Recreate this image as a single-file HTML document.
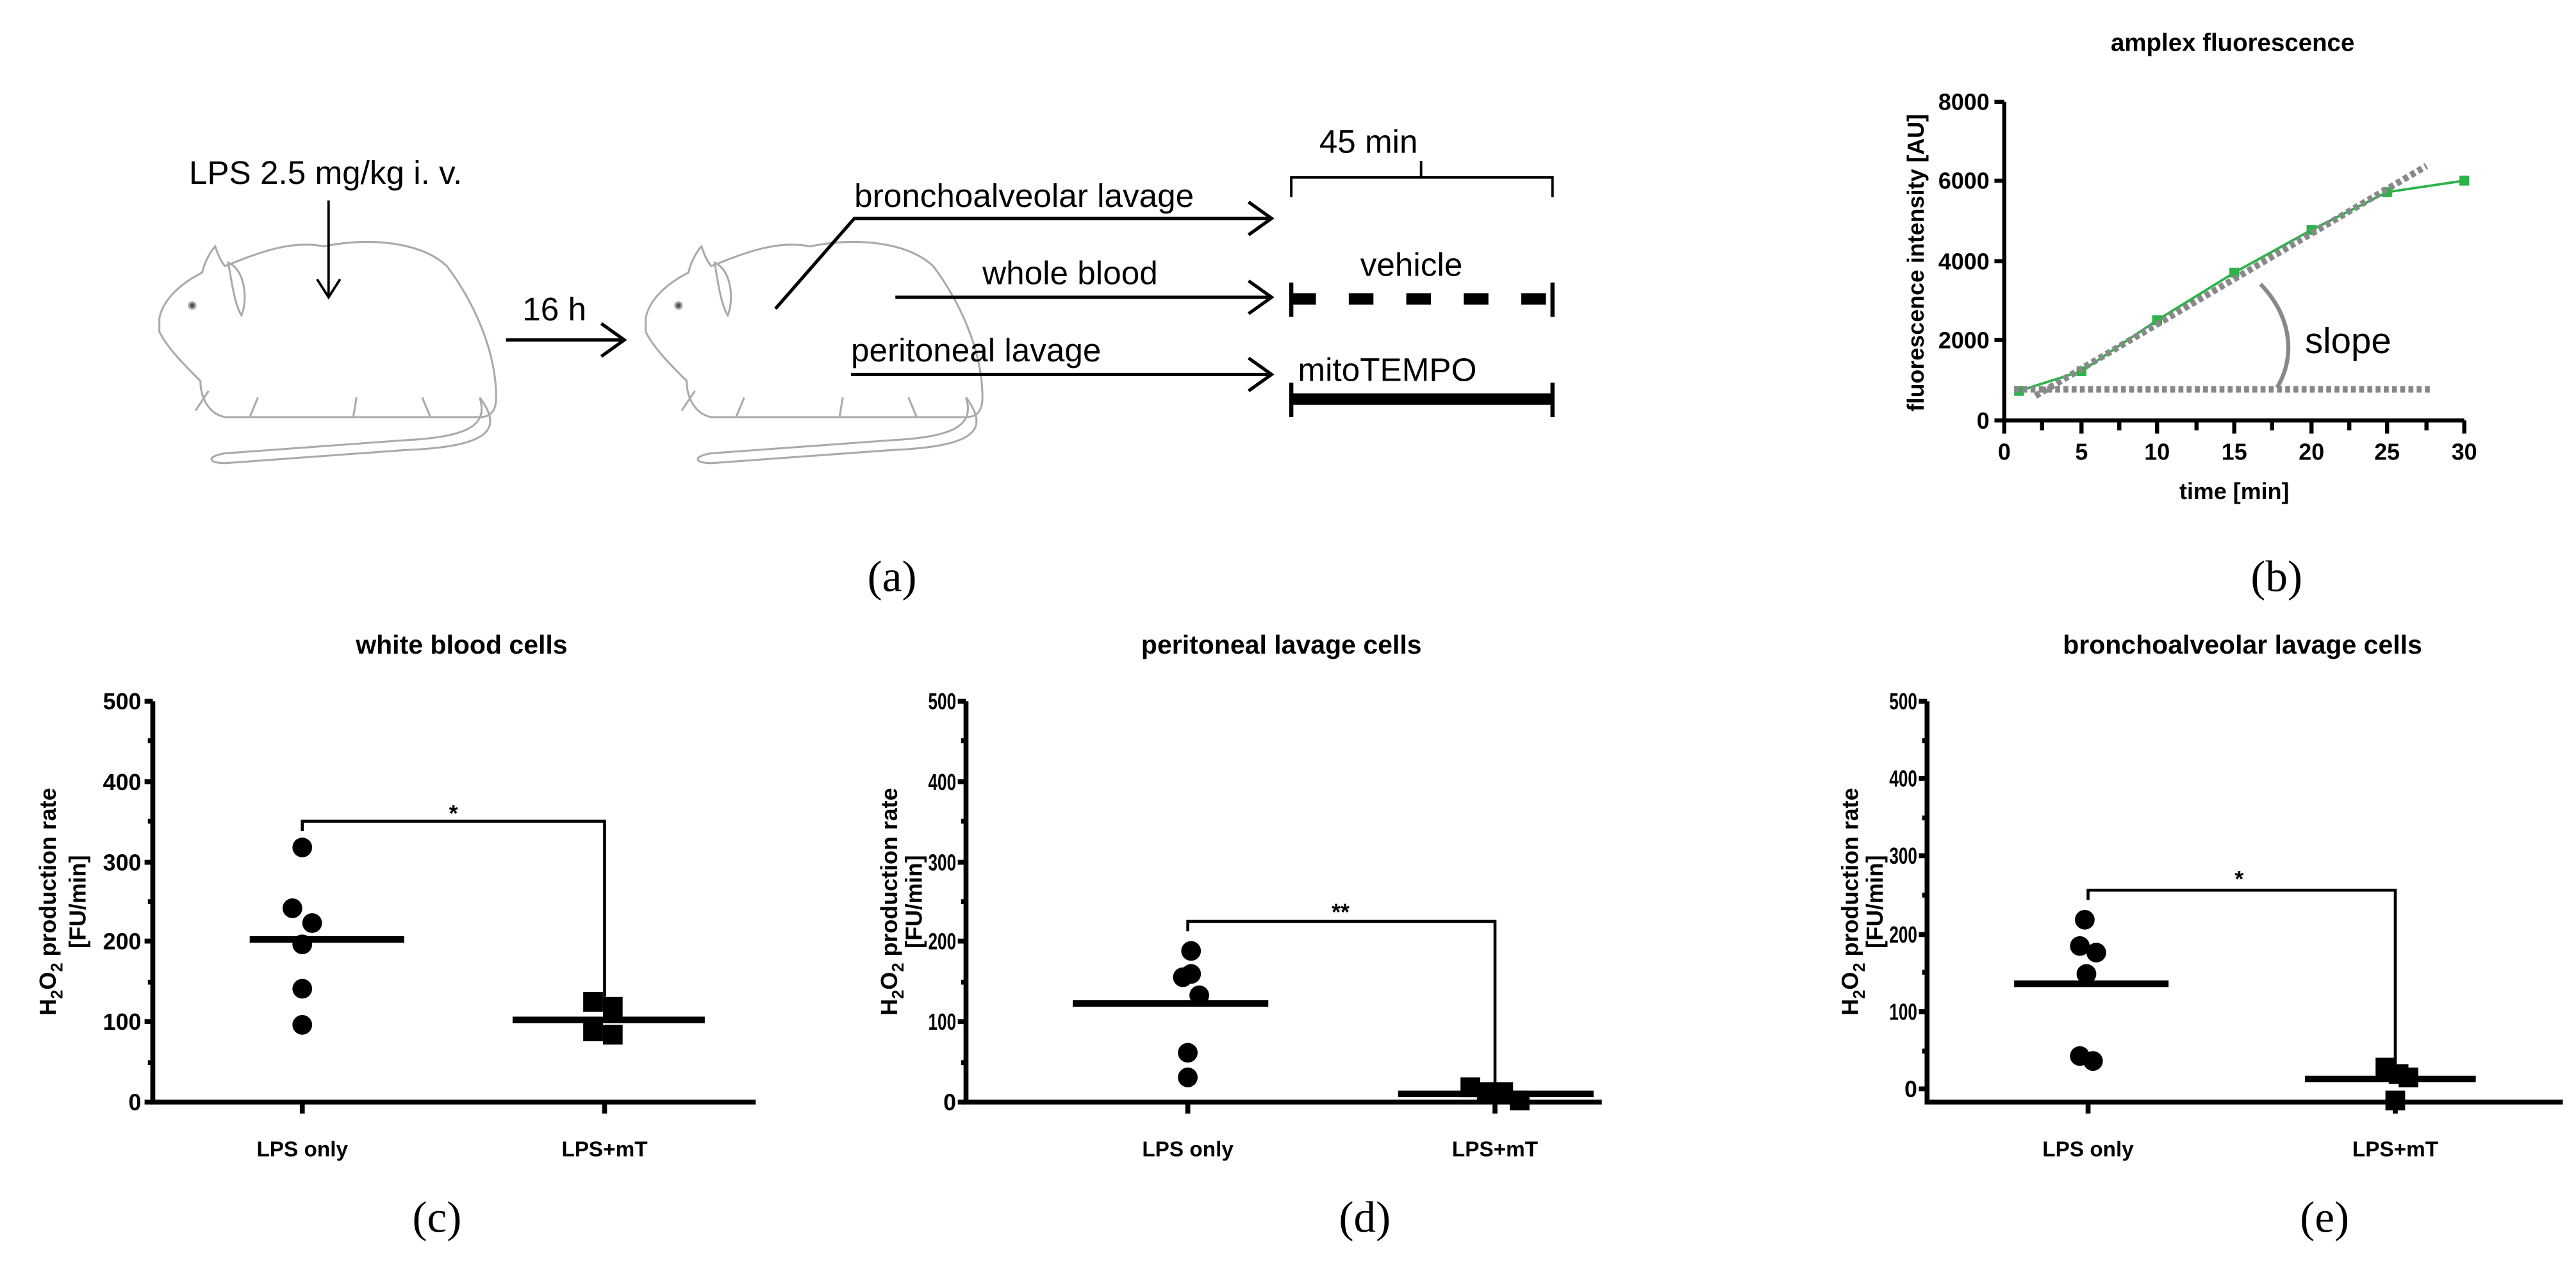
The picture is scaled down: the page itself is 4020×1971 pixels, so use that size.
<!DOCTYPE html>
<html><head><meta charset="utf-8"><style>
html,body{margin:0;padding:0;background:#fff;}
svg{display:block;}
text{font-family:"Liberation Sans",sans-serif;fill:#000;}
.b{font-weight:bold;}
.pl{font-family:"Liberation Serif",serif;font-size:27px;}
</style></head><body>
<svg width="4020" height="1971" viewBox="0 0 1568 769" preserveAspectRatio="none" xmlns="http://www.w3.org/2000/svg">
<defs>
<g id="mouse" fill="none" stroke="#aaa" stroke-width="1.2">
<path d="M0,52 C2,40 14,30 26,24 C28,16 32,10 34,8 C36,14 38,18 40,20 C60,12 80,4 100,8 C130,2 160,6 175,20 C190,40 205,70 205,100 C205,110 200,112 195,112 L40,112 C30,110 25,100 25,90 C15,80 5,70 0,60 Z"/>
<path d="M42,18 C52,22 54,40 50,50 C46,44 44,30 42,18 Z"/>
<path d="M195,100 C210,120 200,130 150,132 L40,140 C30,140 28,136 40,134 L150,126 C190,124 200,116 195,100"/>
<circle cx="20" cy="44" r="2" fill="#555"/>
<path d="M30,96 L22,108 M60,100 L55,112 M120,100 L118,112 M160,100 L165,112"/>
</g>
</defs>
<!-- Panel a -->
<use href="#mouse" transform="translate(97,142)"/>
<use href="#mouse" transform="translate(393,142)"/>
<text x="115" y="112" font-size="20">LPS 2.5 mg/kg i. v.</text>
<line x1="200" y1="122" x2="200" y2="180" stroke="#000" stroke-width="1.5"/>
<path d="M193,170 L200,181 L207,170" fill="none" stroke="#000" stroke-width="1.5"/>
<text x="318" y="195" font-size="20">16 h</text>
<line x1="308" y1="207" x2="380" y2="207" stroke="#000" stroke-width="2"/>
<path d="M366,197 L380,207 L366,217" fill="none" stroke="#000" stroke-width="2"/>
<text x="520" y="126" font-size="20">bronchoalveolar lavage</text>
<path d="M472,188 L520,133 L773,133" fill="none" stroke="#000" stroke-width="2"/>
<path d="M760,123 L774,133 L760,143" fill="none" stroke="#000" stroke-width="2"/>
<text x="598" y="173" font-size="20">whole blood</text>
<line x1="545" y1="181" x2="773" y2="181" stroke="#000" stroke-width="2"/>
<path d="M760,171 L774,181 L760,191" fill="none" stroke="#000" stroke-width="2"/>
<text x="518" y="220" font-size="20">peritoneal lavage</text>
<line x1="518" y1="228" x2="773" y2="228" stroke="#000" stroke-width="2"/>
<path d="M760,218 L774,228 L760,238" fill="none" stroke="#000" stroke-width="2"/>
<text x="803" y="93" font-size="20">45 min</text>
<path d="M786,120 L786,108 L945,108 L945,120 M865,108 L865,98" fill="none" stroke="#000" stroke-width="1.5"/>
<text x="828" y="168" font-size="20">vehicle</text>
<line x1="786" y1="172" x2="786" y2="193" stroke="#000" stroke-width="2.5"/>
<line x1="945" y1="172" x2="945" y2="193" stroke="#000" stroke-width="2.5"/>
<line x1="786" y1="182" x2="945" y2="182" stroke="#000" stroke-width="7" stroke-dasharray="15,20"/>
<text x="790" y="232" font-size="20">mitoTEMPO</text>
<line x1="786" y1="233" x2="786" y2="254" stroke="#000" stroke-width="2.5"/>
<line x1="945" y1="233" x2="945" y2="254" stroke="#000" stroke-width="2.5"/>
<line x1="786" y1="243" x2="945" y2="243" stroke="#000" stroke-width="7"/>
<text x="528" y="360" class="pl">(a)</text>

<!-- Panel b -->
<text x="1359" y="31" font-size="15" class="b" text-anchor="middle">amplex fluorescence</text>
<g stroke="#000" stroke-width="2.5" fill="none">
<path d="M1220,62 L1220,256 L1500,256"/>
<path d="M1214,62 H1220 M1214,110 H1220 M1214,159 H1220 M1214,207 H1220 M1214,256 H1220"/>
<path d="M1220,256 V264 M1243,256 V262 M1267,256 V264 M1290,256 V262 M1313,256 V264 M1337,256 V262 M1360,256 V264 M1383,256 V262 M1407,256 V264 M1430,256 V262 M1453,256 V264 M1477,256 V262 M1500,256 V264"/>
</g>
<g font-size="14" class="b" text-anchor="end">
<text x="1211" y="67">8000</text><text x="1211" y="115">6000</text><text x="1211" y="164">4000</text><text x="1211" y="212">2000</text><text x="1211" y="261">0</text>
</g>
<g font-size="14" class="b" text-anchor="middle">
<text x="1220" y="280">0</text><text x="1267" y="280">5</text><text x="1313" y="280">10</text><text x="1360" y="280">15</text><text x="1407" y="280">20</text><text x="1453" y="280">25</text><text x="1500" y="280">30</text>
</g>
<text x="1360" y="304" font-size="14" class="b" text-anchor="middle">time [min]</text>
<text transform="translate(1171,160) rotate(-90)" font-size="14" class="b" text-anchor="middle">fluorescence intensity [AU]</text>
<polyline points="1229,238 1267,226 1313,195 1360,166 1407,140 1453,117 1500,110" fill="none" stroke="#2db34a" stroke-width="1.5"/>
<g fill="#2db34a"><rect x="1226" y="235" width="6" height="6"/><rect x="1264" y="223" width="6" height="6"/><rect x="1310" y="192" width="6" height="6"/><rect x="1357" y="163" width="6" height="6"/><rect x="1404" y="137" width="6" height="6"/><rect x="1450" y="114" width="6" height="6"/><rect x="1497" y="107" width="6" height="6"/></g>
<line x1="1239" y1="241" x2="1477" y2="101" stroke="#888" stroke-width="4" stroke-dasharray="3,2"/>
<line x1="1226" y1="237" x2="1481" y2="237" stroke="#888" stroke-width="4" stroke-dasharray="3,2"/>
<path d="M1376,173 C1397,195 1396,220 1386,236" fill="none" stroke="#888" stroke-width="2.5"/>
<text x="1403" y="215" font-size="22">slope</text>
<text x="1370" y="360" class="pl">(b)</text>

<!-- Panel c -->
<text x="281" y="398" font-size="16" class="b" text-anchor="middle">white blood cells</text>
<g stroke="#000" stroke-width="3" fill="none">
<path d="M93,427 V671 H460"/>
<path d="M88,427 H93 M88,476 H93 M88,525 H93 M88,573 H93 M88,622 H93 M88,671 H93 M90,451 H93 M90,500 H93 M90,549 H93 M90,598 H93 M90,647 H93"/>
<path d="M184,671 V678 M368,671 V678"/>
<path d="M152,572 H246 M312,621 H429" stroke-width="4"/>
</g>
<path d="M184,506 V500 H368 V607" fill="none" stroke="#000" stroke-width="1.8"/>
<text x="276" y="500" font-size="14" class="b" text-anchor="middle">*</text>
<g font-size="14" class="b" text-anchor="end">
<text x="86" y="432">500</text><text x="86" y="481">400</text><text x="86" y="530">300</text><text x="86" y="578">200</text><text x="86" y="627">100</text><text x="86" y="676">0</text>
</g>
<g font-size="13" class="b" text-anchor="middle"><text x="184" y="704">LPS only</text><text x="368" y="704">LPS+mT</text></g>
<text transform="translate(34,549) rotate(-90)" font-size="14" class="b" text-anchor="middle">H<tspan font-size="10" dy="4">2</tspan><tspan dy="-4">O</tspan><tspan font-size="10" dy="4">2</tspan><tspan dy="-4"> production rate</tspan></text>
<text transform="translate(52,549) rotate(-90)" font-size="14" class="b" text-anchor="middle">[FU/min]</text>
<g fill="#000"><circle cx="184" cy="516" r="6"/><circle cx="178" cy="553" r="6"/><circle cx="190" cy="562" r="6"/><circle cx="184" cy="575" r="6"/><circle cx="184" cy="602" r="6"/><circle cx="184" cy="624" r="6"/>
<rect x="355" y="604" width="12" height="12"/><rect x="367" y="607" width="12" height="12"/><rect x="355" y="622" width="12" height="12"/><rect x="367" y="624" width="12" height="12"/></g>
<text x="251" y="750" class="pl">(c)</text>

<!-- Panel d -->
<text x="780" y="398" font-size="16" class="b" text-anchor="middle">peritoneal lavage cells</text>
<g stroke="#000" stroke-width="3" fill="none">
<path d="M588,427 V671 H975"/>
<path d="M583,427 H588 M583,476 H588 M583,525 H588 M583,573 H588 M583,622 H588 M583,671 H588 M585,451 H588 M585,500 H588 M585,549 H588 M585,598 H588 M585,647 H588"/>
<path d="M723,671 V678 M910,671 V678"/>
<path d="M653,611 H772 M851,666 H970" stroke-width="4"/>
</g>
<path d="M723,567 V561 H910 V660" fill="none" stroke="#000" stroke-width="1.8"/>
<text x="816" y="560" font-size="14" class="b" text-anchor="middle">**</text>
<g font-size="14" class="b" text-anchor="end">
<text x="582" y="432" textLength="17" lengthAdjust="spacingAndGlyphs">500</text><text x="582" y="481" textLength="17" lengthAdjust="spacingAndGlyphs">400</text><text x="582" y="530" textLength="17" lengthAdjust="spacingAndGlyphs">300</text><text x="582" y="578" textLength="17" lengthAdjust="spacingAndGlyphs">200</text><text x="582" y="627" textLength="17" lengthAdjust="spacingAndGlyphs">100</text><text x="582" y="676">0</text>
</g>
<g font-size="13" class="b" text-anchor="middle"><text x="723" y="704">LPS only</text><text x="910" y="704">LPS+mT</text></g>
<text transform="translate(546,549) rotate(-90)" font-size="14" class="b" text-anchor="middle">H<tspan font-size="10" dy="4">2</tspan><tspan dy="-4">O</tspan><tspan font-size="10" dy="4">2</tspan><tspan dy="-4"> production rate</tspan></text>
<text transform="translate(561,549) rotate(-90)" font-size="14" class="b" text-anchor="middle">[FU/min]</text>
<g fill="#000"><circle cx="725" cy="579" r="6"/><circle cx="725" cy="593" r="6"/><circle cx="720" cy="595" r="6"/><circle cx="730" cy="606" r="6"/><circle cx="723" cy="641" r="6"/><circle cx="723" cy="656" r="6"/>
<rect x="889" y="656" width="12" height="12"/><rect x="899" y="659" width="12" height="12"/><rect x="909" y="659" width="12" height="12"/><rect x="919" y="664" width="12" height="12"/></g>
<text x="815" y="750" class="pl">(d)</text>

<!-- Panel e -->
<text x="1365" y="398" font-size="16" class="b" text-anchor="middle">bronchoalveolar lavage cells</text>
<g stroke="#000" stroke-width="3" fill="none">
<path d="M1173,427 V671 H1560"/>
<path d="M1168,427 H1173 M1168,474 H1173 M1168,521 H1173 M1168,569 H1173 M1168,616 H1173 M1168,663 H1173 M1170,451 H1173 M1170,498 H1173 M1170,545 H1173 M1170,592 H1173 M1170,640 H1173"/>
<path d="M1271,671 V678 M1458,671 V678"/>
<path d="M1226,599 H1320 M1403,657 H1507" stroke-width="4"/>
</g>
<path d="M1271,548 V542 H1458 V655" fill="none" stroke="#000" stroke-width="1.8"/>
<text x="1363" y="540" font-size="14" class="b" text-anchor="middle">*</text>
<g font-size="14" class="b" text-anchor="end">
<text x="1167" y="432" textLength="17" lengthAdjust="spacingAndGlyphs">500</text><text x="1167" y="479" textLength="17" lengthAdjust="spacingAndGlyphs">400</text><text x="1167" y="526" textLength="17" lengthAdjust="spacingAndGlyphs">300</text><text x="1167" y="574" textLength="17" lengthAdjust="spacingAndGlyphs">200</text><text x="1167" y="621" textLength="17" lengthAdjust="spacingAndGlyphs">100</text><text x="1167" y="668">0</text>
</g>
<g font-size="13" class="b" text-anchor="middle"><text x="1271" y="704">LPS only</text><text x="1458" y="704">LPS+mT</text></g>
<text transform="translate(1131,549) rotate(-90)" font-size="14" class="b" text-anchor="middle">H<tspan font-size="10" dy="4">2</tspan><tspan dy="-4">O</tspan><tspan font-size="10" dy="4">2</tspan><tspan dy="-4"> production rate</tspan></text>
<text transform="translate(1146,549) rotate(-90)" font-size="14" class="b" text-anchor="middle">[FU/min]</text>
<g fill="#000"><circle cx="1269" cy="560" r="6"/><circle cx="1266" cy="576" r="6"/><circle cx="1276" cy="580" r="6"/><circle cx="1270" cy="593" r="6"/><circle cx="1266" cy="643" r="6"/><circle cx="1274" cy="646" r="6"/>
<rect x="1446" y="644" width="12" height="12"/><rect x="1454" y="648" width="12" height="12"/><rect x="1460" y="650" width="12" height="12"/><rect x="1452" y="664" width="12" height="12"/></g>
<text x="1400" y="750" class="pl">(e)</text>
</svg>
</body></html>
